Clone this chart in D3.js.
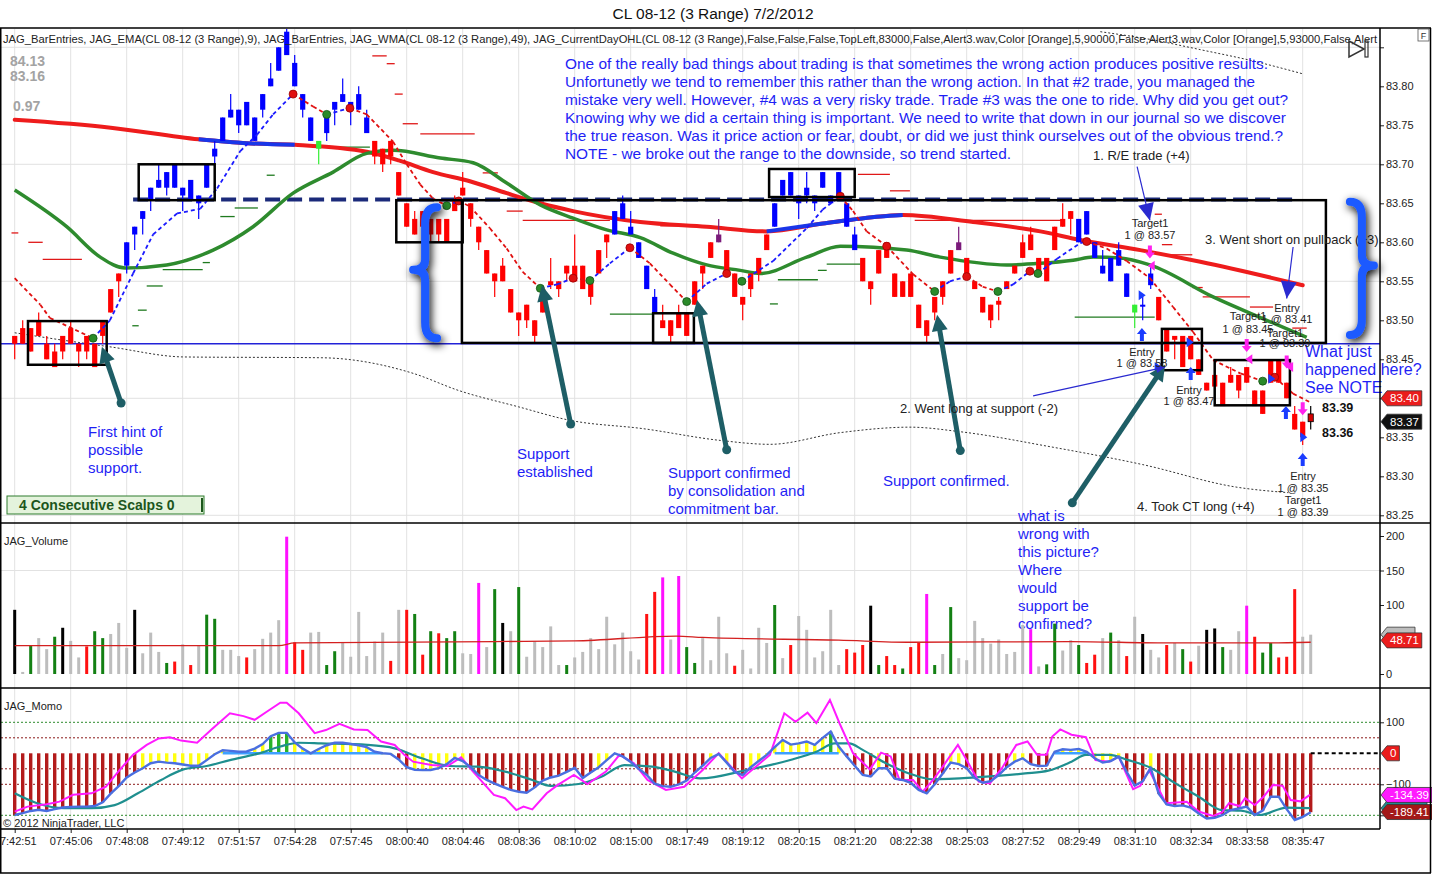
<!DOCTYPE html>
<html>
<head>
<meta charset="utf-8">
<script src="https://cdn.jsdelivr.net/npm/d3@7"></script>
<style>
  body { margin: 0; background: #fff; }
  svg { display: block; font-family: "Liberation Sans", Arial, sans-serif; }
</style>
</head>
<body>
<svg id="chart" width="1432" height="875"></svg>
<script>
// ---------- data ----------
const timeLabels = ["07:42:51","07:45:06","07:48:08","07:49:12","07:51:57","07:54:28","07:57:45","08:00:40",
  "08:04:46","08:08:36","08:10:02","08:15:00","08:17:49","08:19:12","08:20:15","08:21:20","08:22:38",
  "08:25:03","08:27:52","08:29:49","08:31:10","08:32:34","08:33:58","08:35:47"]

const opens = [83.48,83.49,83.49,83.50,83.47,83.46,83.48,83.49,83.47,83.48,
  83.47,83.48,83.51,83.55,83.57,83.61,83.63,83.655,83.67,83.67,
  83.67,83.67,83.655,83.65,83.67,83.71,83.73,83.76,83.75,83.75,
  83.73,83.77,83.80,83.82,83.84,83.83,83.79,83.76,83.73,83.74,
  83.77,83.78,83.78,83.77,83.76,83.73,83.72,83.73,83.69,83.65,
  83.63,83.64,83.63,83.63,83.63,83.64,83.66,83.65,83.62,83.59,
  83.56,83.57,83.54,83.51,83.52,83.50,83.51,83.545,83.55,83.56,
  83.55,83.57,83.55,83.56,83.60,83.61,83.63,83.62,83.60,83.57,
  83.53,83.50,83.50,83.49,83.48,83.52,83.56,83.58,83.60,83.59,
  83.56,83.53,83.54,83.56,83.59,83.62,83.66,83.66,83.66,83.66,
  83.66,83.67,83.66,83.66,83.65,83.61,83.58,83.55,83.56,83.60,
  83.56,83.55,83.56,83.52,83.50,83.51,83.53,83.56,83.59,83.58,
  83.55,83.53,83.52,83.52,83.54,83.56,83.58,83.59,83.58,83.55,
  83.59,83.62,83.64,83.63,83.61,83.60,83.57,83.58,83.57,83.56,
  83.52,83.52,83.56,83.53,83.49,83.48,83.48,83.48,83.45,83.42,
  83.43,83.42,83.43,83.43,83.44,83.41,83.41,83.45,83.45,83.42,
  83.38,83.37,83.38]
const highs = [83.48,83.50,83.49,83.51,83.48,83.47,83.48,83.50,83.47,83.48,
  83.47,83.50,83.54,83.56,83.60,83.62,83.64,83.67,83.70,83.69,
  83.70,83.67,83.68,83.66,83.70,83.73,83.76,83.79,83.77,83.78,
  83.76,83.79,83.83,83.85,83.88,83.84,83.79,83.76,83.73,83.76,
  83.78,83.81,83.78,83.80,83.77,83.73,83.72,83.73,83.69,83.65,
  83.64,83.64,83.63,83.63,83.63,83.66,83.69,83.65,83.62,83.59,
  83.56,83.58,83.54,83.51,83.52,83.50,83.54,83.58,83.55,83.57,
  83.61,83.57,83.55,83.59,83.61,83.64,83.66,83.64,83.60,83.57,
  83.54,83.52,83.50,83.52,83.51,83.55,83.57,83.60,83.63,83.59,
  83.56,83.53,83.56,83.58,83.61,83.65,83.68,83.69,83.66,83.69,
  83.66,83.69,83.66,83.69,83.65,83.62,83.58,83.55,83.59,83.60,
  83.56,83.55,83.56,83.52,83.50,83.53,83.55,83.59,83.62,83.58,
  83.55,83.53,83.52,83.53,83.55,83.57,83.61,83.62,83.58,83.58,
  83.62,83.65,83.64,83.63,83.64,83.60,83.59,83.58,83.60,83.56,
  83.52,83.53,83.57,83.53,83.49,83.48,83.48,83.48,83.45,83.42,
  83.43,83.42,83.44,83.43,83.44,83.41,83.41,83.45,83.45,83.42,
  83.39,83.37,83.39]
const lows = [83.45,83.47,83.46,83.48,83.45,83.44,83.45,83.47,83.44,83.45,
  83.44,83.47,83.51,83.53,83.56,83.59,83.61,83.64,83.67,83.66,
  83.67,83.64,83.655,83.63,83.67,83.70,83.73,83.76,83.74,83.75,
  83.73,83.76,83.80,83.82,83.84,83.80,83.76,83.73,83.70,83.73,
  83.75,83.78,83.75,83.77,83.74,83.70,83.69,83.70,83.66,83.62,
  83.61,83.61,83.60,83.60,83.60,83.64,83.66,83.62,83.59,83.56,
  83.53,83.55,83.51,83.48,83.49,83.47,83.51,83.54,83.53,83.55,
  83.55,83.54,83.52,83.56,83.58,83.61,83.63,83.61,83.58,83.54,
  83.51,83.49,83.47,83.49,83.48,83.52,83.54,83.58,83.60,83.56,
  83.53,83.50,83.53,83.55,83.59,83.62,83.66,83.66,83.63,83.65,
  83.64,83.67,83.65,83.66,83.62,83.59,83.55,83.52,83.56,83.58,
  83.53,83.53,83.53,83.49,83.47,83.50,83.52,83.56,83.59,83.56,
  83.54,83.51,83.49,83.50,83.54,83.56,83.58,83.59,83.56,83.55,
  83.59,83.62,83.61,83.60,83.61,83.58,83.56,83.55,83.57,83.53,
  83.49,83.50,83.54,83.50,83.46,83.45,83.44,83.45,83.43,83.41,
  83.415,83.39,83.42,83.40,83.42,83.39,83.38,83.42,83.42,83.40,
  83.36,83.34,83.36]
const closes = [83.47,83.47,83.46,83.48,83.45,83.44,83.46,83.47,83.46,83.46,
  83.44,83.50,83.54,83.56,83.60,83.62,83.64,83.67,83.68,83.69,
  83.70,83.66,83.68,83.66,83.70,83.72,83.76,83.77,83.77,83.78,
  83.76,83.79,83.81,83.85,83.87,83.80,83.77,83.73,83.72,83.76,
  83.78,83.79,83.77,83.79,83.74,83.71,83.70,83.71,83.66,83.62,
  83.61,83.62,83.61,83.61,83.60,83.655,83.67,83.63,83.60,83.56,
  83.55,83.55,83.51,83.50,83.50,83.48,83.54,83.55,83.54,83.57,
  83.57,83.54,83.53,83.59,83.61,83.64,83.65,83.61,83.58,83.54,
  83.51,83.49,83.48,83.51,83.51,83.55,83.57,83.60,83.61,83.56,
  83.53,83.52,83.56,83.58,83.61,83.65,83.68,83.69,83.65,83.67,
  83.65,83.69,83.65,83.69,83.62,83.59,83.55,83.54,83.59,83.58,
  83.53,83.53,83.53,83.49,83.48,83.53,83.55,83.59,83.60,83.56,
  83.54,83.51,83.50,83.525,83.55,83.57,83.60,83.61,83.56,83.58,
  83.62,83.63,83.63,83.60,83.64,83.58,83.56,83.55,83.59,83.53,
  83.51,83.52,83.545,83.50,83.46,83.475,83.44,83.45,83.43,83.41,
  83.415,83.39,83.42,83.41,83.42,83.39,83.38,83.42,83.42,83.40,
  83.36,83.35,83.37]
// r red, b blue, l lime, p purple, d last bar
const candleColors = "rrrrrrrrrrrrrr" + "bbbbbbbbbbbbbbbbbbbbbbbb" + "l" + "bbbbbb" +
  "rrrrrrrrrrrrrrrrrrrrrrrrrrrrrr" + "bbbbbb" + "rrrrrrr" + "p" + "rrrrrr" + "bbbbbbbbbbb" +
  "rrrrrrrrrrrr" + "p" + "rrrrrrrrrrrrrr" + "bbbbbbb" + "l" + "bb" + "rrrrrrrrrrrrrrrrrrr" + "d"

// indicator lines as [bar, price] points
const wma = [[0,83.757],[12,83.747],[23,83.732],[29,83.727],[35,83.725],[44,83.716],[48,83.705],
  [52.3,83.690],[57,83.678],[61.5,83.663],[65.7,83.650],[69.8,83.640],[78.2,83.626],[86.5,83.620],
  [94,83.614],[101,83.624],[108.2,83.633],[111,83.635],[119.8,83.626],[128.2,83.614],[133.2,83.603],
  [140.7,83.590],[148.2,83.575],[161,83.545]]
const wmaUpRanges = [[23,35],[94,111]]
const ema = [[0,83.667],[6.5,83.62],[10.7,83.581],[13.8,83.567],[19,83.571],[24.8,83.590],[29.8,83.620],
  [34.8,83.663],[39.8,83.690],[44,83.714],[47.3,83.718],[53.2,83.708],[57.3,83.702],[61.5,83.676],
  [65.7,83.648],[69.8,83.631],[74,83.616],[78.2,83.606],[82.3,83.586],[86.5,83.571],[90.7,83.564],
  [93.2,83.560],[99,83.581],[103.2,83.595],[111.5,83.590],[115.7,83.581],[124,83.571],[128.2,83.573],
  [132.3,83.577],[134.8,83.581],[138.2,83.580],[141.9,83.571],[149.8,83.530],[156.5,83.500],[161.5,83.478]]
const ema9 = [[0,83.554],[3.2,83.520],[4.4,83.503],[9.8,83.477],[11.9,83.500],[14.8,83.560],[17.3,83.610],
  [20.3,83.637],[23.2,83.643],[25.3,83.669],[28.2,83.717],[30.3,83.738],[32.3,83.764],[34.8,83.790],
  [37.3,83.774],[39,83.764],[41.9,83.772],[44,83.764],[47.3,83.729],[49,83.700],[50.7,83.674],
  [52.3,83.656],[54,83.647],[55.5,83.653],[56.9,83.646],[59.4,83.618],[61.5,83.592],[63.5,83.562],
  [65.7,83.541],[67.8,83.546],[69.8,83.554],[71.9,83.551],[74.4,83.573],[76.9,83.593],[79.4,83.573],
  [81.9,83.546],[84,83.524],[86.5,83.547],[89,83.560],[90.9,83.550],[94.8,83.576],[99,83.618],
  [101,83.642],[103.2,83.659],[104.8,83.640],[106.5,83.614],[109,83.595],[112.3,83.559],[115,83.537],
  [116.9,83.550],[119,83.556],[121,83.543],[122.9,83.537],[124.8,83.546],[126.9,83.563],[127.9,83.560],
  [130.3,83.579],[133.2,83.599],[134,83.601],[136.5,83.592],[139,83.576],[141.9,83.554],[144.8,83.517],
  [147.3,83.485],[149.8,83.449],[153.2,83.432],[156,83.422],[157.5,83.427],[159.8,83.406],[161.9,83.395]]
const greenTurns = [9.8,39,54,65.7,71.9,84,90.9,115,122.9,127.9,156]
const redTurns = [34.8,41.9,55.5,69.8,76.9,89,103.2,109,119,126.9,134,157.5]
const lowerBand = [[0,83.484],[5.7,83.475],[11.9,83.466],[21.2,83.453],[38.3,83.452],[49.8,83.432],
  [55.5,83.41],[63,83.389],[69.3,83.372],[78.6,83.361],[88.2,83.346],[94.4,83.341],[103.2,83.356],
  [111.9,83.363],[118.3,83.357],[129.4,83.338],[141,83.315],[152.8,83.286],[159.2,83.279]]
const upperBand = [[135.7,83.870],[142,83.860],[148.2,83.847],[155,83.832],[161,83.816]]

// short stop levels [bar from, bar to, price]
const redStops = [[-0.4,0.45,83.612],[1.7,3.5,83.600],[3.5,8.4,83.578],[44.7,46.5,83.839],[46.5,47.5,83.829],
  [47.5,48.5,83.790],[48.5,50.4,83.752],[50.7,57.5,83.739],[58.5,60.4,83.689],[61.5,63.5,83.640],
  [63.5,74.4,83.628],[80.7,85.3,83.621],[105.4,109.4,83.687],[109.4,111.9,83.666],[112.5,131,83.628],
  [142.5,143.4,83.636],[143.4,144.7,83.597],[144.4,147.2,83.584],[147.2,148.5,83.542],[148.5,154.4,83.530],
  [154.4,157.3,83.517],[159.7,161.5,83.490]]
const greenStops = [[14.7,15.5,83.493],[15.4,16.5,83.513],[16.5,18.5,83.544],[18.5,23.5,83.565],
  [23.5,24.4,83.574],[25.7,27.5,83.633],[27.5,30.4,83.644],[31.5,32.5,83.686],[37.9,44.4,83.722],
  [74.4,79.8,83.508],[94.4,95.4,83.521],[95.4,100.4,83.552],[100.4,101.5,83.564],[101.5,105.7,83.572],
  [132.5,142.5,83.504]]

// drawn objects: boxes [bar0, bar1, top price, bottom price], levels
const boxes = [[1.66,11.5,83.499,83.443],[15.5,25,83.70,83.654],[47.7,56,83.654,83.60],[55.9,163.9,83.654,83.471],
  [79.8,84.9,83.509,83.471],[94.3,105,83.694,83.658],[143.4,148.4,83.489,83.436],[150,159.4,83.449,83.391]]
const rangeTop = {from: 14.8, to: 160.3, price: 83.655}
const supportLevel = 83.47
const braces = [{bar: 51.3, top: 83.645, bottom: 83.477, dir: -1}, {bar: 168.4, top: 83.652, bottom: 83.481, dir: 1}]
const tealArrows = [[[13.3,83.394],[10.9,83.466]],[[69.5,83.367],[65.9,83.545]],[[89,83.334],[85.3,83.526]],
  [[118.2,83.333],[115.3,83.507]],[[132.2,83.266],[143.8,83.443]]]
const blueArrows = [[[140.3,83.697],[141.9,83.628]],[[127.3,83.403],[143.8,83.44]],[[159.8,83.594],[159.0,83.528]]]
const entryUp = [[140.9,83.49],[147,83.44],[161,83.33],[158.9,83.39]]
const targetDown = [[141.9,83.596],[154,83.476],[159,83.455],[161,83.395]]
const targetLeft = [[142,83.57],[154.2,83.45],[159.3,83.44]]
const entryFlags = [[140.5,83.532],[142.5,83.44],[146.5,83.472],[156.7,83.425],[160.7,83.35]]

// volume
const volume = [93,3,42,52,36,54,67,48,24,40,62,52,58,74,38,93,30,60,32,16,18,43,13,41,86,80,35,35,26,24,
  36,51,60,78,199,46,35,60,61,13,33,46,25,90,26,47,60,19,93,93,87,28,62,59,52,62,30,29,132,39,
  123,74,62,126,25,47,39,69,13,13,24,32,52,36,83,43,60,33,21,87,119,140,50,142,39,16,52,20,
  83,30,12,35,8,67,45,100,23,42,84,64,24,33,93,13,36,31,42,99,13,26,13,8,39,45,116,13,29,97,
  23,20,77,52,44,50,29,32,71,65,11,14,73,34,49,42,16,28,52,60,49,26,83,58,35,24,42,45,36,18,
  41,64,66,39,35,62,99,54,31,45,24,25,123,54,57]
// k black, a gray, g green, r red, m magenta
const volumeColors = "kagaagkaar" + "ggaaakaaag" + "raraggaaar" + "aaaamrraag" + "gaaaaaarar" +
  "grgrggaama" + "gkagaaaaag" + "aaaaaaaaar" + "rmamggaaaa" + "raaaagaraa" + "aaaarrrkgr" +
  "rgrrmgagaa" + "aaaaaaamag" + "gaagrragar" + "akaaragrak" + "kgaamrggrr" + "raa"
const volumeAvg = [[0,41],[33,41],[35,45],[60,47],[70,48],[82.7,55],[86,53],[103,49],[112,46],[132,47],[144,45],[157,45],[162,46]]

// momentum
const momo = [-199,-193,-186,-182,-186,-180,-175,-173,-172,-172,-170,-158,-130,-106,-78,-62,-48,-32,-27,-30,
  -32,-36,-40,-40,-22,-3,10,8,5,6,15,30,55,66,66,35,15,0,14,26,
  34,34,30,26,20,5,0,-2,-20,-45,-53,-54,-54,-48,-35,-15,-25,-45,-70,-86,
  -98,-108,-118,-124,-127,-110,-88,-78,-72,-60,-47,-80,-62,-45,-22,0,-10,-28,-50,-70,
  -98,-106,-108,-100,-88,-62,-40,-15,-2,-30,-60,-70,-45,-25,-5,20,43,28,32,38,
  27,50,70,22,-10,-40,-70,-75,-48,-48,-82,-86,-95,-118,-129,-100,-65,-30,-35,-48,
  -80,-95,-90,-70,-45,-27,-16,-35,-41,-40,5,13,11,14,5,-16,-30,-25,-11,-60,
  -104,-90,-48,-130,-165,-170,-168,-175,-194,-210,-208,-199,-183,-178,-172,-199,-185,-140,-140,-180,
  -215,-205,-190]
const momoColors = "rrrrrrrrrr" + "rrrrrryyyy" + "yyyyyyyyyy" + "yygggyyyyy" + "yyyyyyyyrr" +
  "yyyyyyyrrr" + "rrrrrrrrrr" + "rrryyyrrrr" + "rrrrrrryyy" + "rryyyyyyyy" + "yygyrrrryr" +
  "rrrrrrryyr" + "rrrrryyrrr" + "yyyyyyyyyr" + "rryrrrrrrr" + "rrrrrrrrrr" + "rrr"
const momoFast = [[0,-188],[1.6,-172],[4,-164],[5.6,-156],[7.3,-134],[9.6,-129],[11.4,-108],[13.1,-54],[14.8,-5],
  [16.5,27],[18,48],[19.4,52],[20.8,41],[22.8,34],[24.6,77],[26.9,129],[28.6,120],[30,108],[31.5,134],
  [33.2,163],[34,163],[35.5,129],[37.5,65],[38.9,75],[40.6,95],[42.4,77],[44.1,75],[45.8,38],[47.5,27],
  [48.7,-5],[49.8,-27],[52.1,-38],[54.1,-41],[55.8,-13],[57.3,-59],[59.9,-134],[61.3,-145],[62.7,-183],
  [63.6,-172],[64.7,-181],[66.5,-129],[67.9,-102],[69.9,-70],[71.6,-99],[73.9,-59],[75.6,-5],[77.4,-32],
  [79.1,-86],[81.4,-118],[83.7,-108],[86,-54],[88,0],[90.9,-81],[94.4,-5],[96.2,129],[97.6,102],[99.1,131],
  [100.2,98],[101.9,172],[103.1,97],[104.8,0],[106.9,-52],[108.3,2],[109.5,-10],[110.6,-86],[112.3,-86],
  [113.5,-124],[114.8,-86],[116,-43],[117.9,27],[119,-22],[120.5,-91],[121.9,-97],[123.4,-48],[125.2,27],
  [126.6,38],[127.8,-5],[129,-5],[129.7,54],[130.7,77],[132.1,60],[133.9,52],[135.1,-22],[136.8,-27],
  [138,-11],[139.8,-116],[140.7,-105],[141.8,-54],[143.9,-161],[146.5,-156],[148,-188],[149.8,-202],
  [150.9,-191],[151.8,-161],[153.1,-170],[153.8,-145],[155,-167],[156.1,-140],[157.3,-102],[158.5,-105],
  [159.5,-151],[160.7,-155],[161.9,-134]]
const momoSlow = [[0,-129],[2.8,-161],[6.2,-177],[9.6,-177],[12.5,-167],[15.4,-129],[18.3,-86],[21.1,-52],
  [24,-41],[26.9,-22],[30.3,-2],[33.2,22],[35.5,34],[38.3,32],[44.1,27],[47.5,16],[50.9,-16],[54.4,-41],
  [57.9,-43],[61.3,-59],[64.7,-86],[67,-105],[70.5,-99],[73.4,-75],[76.2,-38],[79.7,-43],[82.5,-59],
  [85.7,-81],[91.5,-54],[94.4,-38],[97.3,-19],[100.2,5],[102.5,32],[104.3,32],[106,11],[108.9,-32],
  [111.8,-65],[114.7,-84],[120.5,-77],[126.3,-65],[129.2,-56],[132.1,-27],[133.9,-5],[136.8,-5],
  [139.2,-22],[142.1,-48],[145.1,-97],[148,-140],[150.9,-183],[153.3,-185],[155.6,-199],[159,-175],[161.9,-177]]
const momoLevels = [[100,"#2e8b2e"],[50,"#8b1a1a"],[-50,"#8b1a1a"],[-100,"#8b1a1a"],[-200,"#2e8b2e"]]

// tick values; 83.40 sits under the price tag, so it only gets a tick mark
const priceTicks = [83.25,83.30,83.35,83.45,83.50,83.55,83.60,83.65,83.70,83.75,83.80]
const priceMarksOnly = [83.40,83.85]
const priceGrid = [83.85,83.70,83.55,83.40,83.25]
const volumeTicks = [0,100,150,200]
const momoTicks = [-200,-100,100]

// ---------- layout ----------
const W = 1432, H = 875
const plotRight = 1380
const font = "Liberation Sans, Arial, sans-serif"

const x = d3.scaleLinear().domain([0, 162]).range([14.7, 1310.7])
const yP = d3.scaleLinear().domain([83.25, 83.80]).range([515.3, 86.3])
const yV = d3.scaleLinear().domain([0, 200]).range([674, 536])
const yM = d3.scaleLinear().domain([-200, 100]).range([815.3, 722.3])

const svg = d3.select("#chart")
svg.append("rect").attr("width", W).attr("height", H).attr("fill", "#fff")

const defs = svg.append("defs")
function clip(id, y0, y1) {
  defs.append("clipPath").attr("id", id).append("rect")
    .attr("x", 1).attr("y", y0).attr("width", plotRight - 1).attr("height", y1 - y0)
}
clip("cp", 29, 523)
clip("cv", 524, 688)
clip("cm", 689, 829)

const shadow = defs.append("filter").attr("id", "shadow")
  .attr("x", "-60%").attr("y", "-20%").attr("width", "220%").attr("height", "140%")
shadow.append("feGaussianBlur").attr("in", "SourceAlpha").attr("stdDeviation", 4)
shadow.append("feOffset").attr("dx", 2).attr("dy", 3).attr("result", "blur")
const merge = shadow.append("feMerge")
merge.append("feMergeNode").attr("in", "blur")
merge.append("feMergeNode").attr("in", "SourceGraphic")
defs.append("filter").attr("id", "soft").append("feGaussianBlur").attr("stdDeviation", 2.5)

// title
svg.append("text").attr("x", 713).attr("y", 19).attr("text-anchor", "middle")
  .attr("font-size", 15.5).attr("fill", "#111").attr("font-family", font)
  .text("CL 08-12 (3 Range)  7/2/2012")

// grid
const tickBars = d3.range(0, 162, 7)
svg.append("g").selectAll("line").data(tickBars).join("line")
  .attr("x1", d => x(d)).attr("x2", d => x(d)).attr("y1", 29).attr("y2", 829)
  .attr("stroke", "#e2e2e2")
svg.append("g").selectAll("line").data(priceGrid).join("line")
  .attr("x1", 1).attr("x2", plotRight).attr("y1", d => yP(d)).attr("y2", d => yP(d))
  .attr("stroke", "#e2e2e2")
svg.append("line").attr("x1", 1).attr("x2", plotRight).attr("y1", yV(150)).attr("y2", yV(150)).attr("stroke", "#e2e2e2")

// ---------- price panel ----------
const P = svg.append("g").attr("clip-path", "url(#cp)")

const bandLine = d3.line().x(d => x(d[0])).y(d => yP(d[1])).curve(d3.curveMonotoneX)
;[lowerBand, upperBand].forEach(band => {
  P.append("path").datum(band).attr("d", bandLine)
    .attr("fill", "none").attr("stroke", "#333").attr("stroke-width", 1).attr("stroke-dasharray", "2,2")
})

// range top dashed line with shadow
P.append("line").attr("x1", x(rangeTop.from)).attr("x2", x(rangeTop.to))
  .attr("y1", yP(rangeTop.price) + 4).attr("y2", yP(rangeTop.price) + 4)
  .attr("stroke", "#888").attr("stroke-width", 5).attr("stroke-dasharray", "15,7").attr("filter", "url(#soft)")
P.append("line").attr("x1", x(rangeTop.from)).attr("x2", x(rangeTop.to))
  .attr("y1", yP(rangeTop.price)).attr("y2", yP(rangeTop.price))
  .attr("stroke", "#1b2a7a").attr("stroke-width", 4).attr("stroke-dasharray", "15,7")

P.append("line").attr("x1", 1).attr("x2", plotRight).attr("y1", yP(supportLevel)).attr("y2", yP(supportLevel))
  .attr("stroke", "#2222d8").attr("stroke-width", 1.6)

P.append("g").selectAll("line").data(redStops).join("line")
  .attr("x1", d => x(d[0])).attr("x2", d => x(d[1])).attr("y1", d => yP(d[2])).attr("y2", d => yP(d[2]))
  .attr("stroke", "#e01818").attr("stroke-width", 1.3)
P.append("g").selectAll("line").data(greenStops).join("line")
  .attr("x1", d => x(d[0])).attr("x2", d => x(d[1])).attr("y1", d => yP(d[2])).attr("y2", d => yP(d[2]))
  .attr("stroke", "#1f7a1f").attr("stroke-width", 1.3)

const smooth = d3.line().x(d => x(d[0])).y(d => yP(d[1])).curve(d3.curveMonotoneX)
P.append("path").datum(wma).attr("d", smooth).attr("fill", "none")
  .attr("stroke", "#ee1c1c").attr("stroke-width", 4).attr("stroke-linecap", "round")
wmaUpRanges.forEach(r => {
  P.append("path").datum(wma.filter(p => p[0] >= r[0] && p[0] <= r[1])).attr("d", smooth)
    .attr("fill", "none").attr("stroke", "#1a36e8").attr("stroke-width", 4)
})
P.append("path").datum(ema).attr("d", smooth).attr("fill", "none")
  .attr("stroke", "#2e8b2e").attr("stroke-width", 3.5)

// candles
const bars = opens.map((o, i) => ({i, o, h: highs[i], l: lows[i], c: closes[i], col: candleColors[i]}))
const candleFill = {r: "#ff0000", b: "#0000ff", l: "#33ee33", p: "#7a1a7a", d: "#d40000"}
const cg = P.append("g")
cg.selectAll("line").data(bars).join("line")
  .attr("x1", d => x(d.i)).attr("x2", d => x(d.i)).attr("y1", d => yP(d.h)).attr("y2", d => yP(d.l))
  .attr("stroke", d => d.col === "d" ? "#000" : candleFill[d.col]).attr("stroke-width", 1.2)
cg.selectAll("rect").data(bars).join("rect")
  .attr("x", d => x(d.i) - 2.6).attr("width", 5.2)
  .attr("y", d => yP(Math.max(d.o, d.c)))
  .attr("height", d => Math.max(2, Math.abs(yP(d.o) - yP(d.c))))
  .attr("fill", d => candleFill[d.col])
  .attr("stroke", d => d.col === "d" ? "#000" : "none").attr("stroke-width", 0.8)

// fast EMA, dashed, coloured by last turn
function stateAt(b) {
  const g = d3.max(greenTurns.filter(t => t <= b)) ?? -1
  const r = d3.max(redTurns.filter(t => t <= b)) ?? -1
  return g > r ? "#1a1aff" : "#e01010"
}
const eg = P.append("g")
for (let k = 0; k < ema9.length - 1; k++) {
  const a = ema9[k], b = ema9[k + 1]
  eg.append("line").attr("x1", x(a[0])).attr("y1", yP(a[1])).attr("x2", x(b[0])).attr("y2", yP(b[1]))
    .attr("stroke", stateAt(a[0])).attr("stroke-width", 1.8).attr("stroke-dasharray", "4,3")
}
const turnDots = greenTurns.map(b => ({b, c: "#2a8a2a"})).concat(redTurns.map(b => ({b, c: "#e01010"})))
eg.selectAll("circle").data(turnDots).join("circle")
  .attr("cx", d => x(d.b)).attr("cy", d => yP(ema9.find(p => p[0] === d.b)[1]))
  .attr("r", 4).attr("fill", d => d.c).attr("stroke", d => d.c === "#2a8a2a" ? "#145214" : "#9a0000").attr("stroke-width", 0.8)

// boxes
P.append("g").selectAll("rect").data(boxes).join("rect")
  .attr("x", d => x(d[0])).attr("y", d => yP(d[2]))
  .attr("width", d => x(d[1]) - x(d[0])).attr("height", d => yP(d[3]) - yP(d[2]))
  .attr("fill", "none").attr("stroke", "#000").attr("stroke-width", 2.5)

// trade markers
const mk = P.append("g")
mk.selectAll(".up").data(entryUp).join("path").attr("class", "up")
  .attr("d", d => { const cx = x(d[0]), cy = yP(d[1]); return `M${cx},${cy} l5,6 h-3 v7 h-4 v-7 h-3 z` })
  .attr("fill", "#1a3cff")
mk.selectAll(".dn").data(targetDown).join("path").attr("class", "dn")
  .attr("d", d => { const cx = x(d[0]), cy = yP(d[1]); return `M${cx - 2},${cy} h4 v7 h3 l-5,6 l-5,-6 h3 z` })
  .attr("fill", "#ff22ee")
mk.selectAll(".lf").data(targetLeft).join("path").attr("class", "lf")
  .attr("d", d => { const cx = x(d[0]), cy = yP(d[1]); return `M${cx - 3},${cy} l7,-5 v10 z` })
  .attr("fill", "#ff22ee")
mk.selectAll(".fl").data(entryFlags).join("path").attr("class", "fl")
  .attr("d", d => { const cx = x(d[0]), cy = yP(d[1]); return `M${cx},${cy - 5} l7,5 l-7,5 z` })
  .attr("fill", "#1a3cff")

// arrows
function arrowHead(x1, y1, x2, y2, len, half) {
  const a = Math.atan2(y2 - y1, x2 - x1)
  const bx = x2 - len * Math.cos(a), by = y2 - len * Math.sin(a)
  const nx = -Math.sin(a) * half, ny = Math.cos(a) * half
  return `M${x2},${y2} L${bx + nx},${by + ny} L${bx - nx},${by - ny} Z`
}
const ag = svg.append("g")
tealArrows.forEach(([s, e]) => {
  const x1 = x(s[0]), y1 = yP(s[1]), x2 = x(e[0]), y2 = yP(e[1])
  const a = Math.atan2(y2 - y1, x2 - x1)
  ag.append("line").attr("x1", x1).attr("y1", y1).attr("x2", x2 - 12 * Math.cos(a)).attr("y2", y2 - 12 * Math.sin(a))
    .attr("stroke", "#1e5e66").attr("stroke-width", 5)
  ag.append("path").attr("d", arrowHead(x1, y1, x2, y2, 16, 8)).attr("fill", "#1e5e66")
  ag.append("circle").attr("cx", x1).attr("cy", y1).attr("r", 4.5).attr("fill", "#1e5e66")
})
blueArrows.forEach(([s, e], k) => {
  const x1 = x(s[0]), y1 = yP(s[1]), x2 = x(e[0]), y2 = yP(e[1])
  ag.append("line").attr("x1", x1).attr("y1", y1).attr("x2", x2).attr("y2", y2)
    .attr("stroke", "#2a2ad0").attr("stroke-width", 1.2)
  const big = k !== 1
  ag.append("path").attr("d", arrowHead(x1, y1, x2, y2, big ? 17 : 9, big ? 8 : 4)).attr("fill", "#2a2ad0")
})

// braces
function bracePath(b) {
  const cx = x(b.bar), y0 = yP(b.top), y1 = yP(b.bottom), ym = (y0 + y1) / 2 - 3, w = 12 * b.dir
  return `M${cx - w},${y0} Q${cx},${y0} ${cx},${y0 + 16} L${cx},${ym - 10} Q${cx},${ym} ${cx + w},${ym} ` +
    `Q${cx},${ym} ${cx},${ym + 10} L${cx},${y1 - 16} Q${cx},${y1} ${cx - w},${y1}`
}

// ---------- text in price panel ----------
function txt(g, xx, yy, s, size, fill, anchor, weight) {
  return g.append("text").attr("x", xx).attr("y", yy).attr("font-size", size).attr("fill", fill)
    .attr("text-anchor", anchor || "start").attr("font-weight", weight || "normal")
    .attr("font-family", font).text(s)
}
const T = svg.append("g")
svg.append("clipPath").attr("id", "hdr").append("rect").attr("x", 0).attr("y", 28).attr("width", 1378).attr("height", 20)
T.append("text").attr("clip-path", "url(#hdr)").attr("x", 3).attr("y", 43).attr("font-size", 11).attr("fill", "#222")
  .attr("font-family", font).attr("textLength", 1374).attr("lengthAdjust", "spacingAndGlyphs")
  .text("JAG_BarEntries, JAG_EMA(CL 08-12 (3 Range),9), JAG_BarEntries, JAG_WMA(CL 08-12 (3 Range),49), JAG_CurrentDayOHL(CL 08-12 (3 Range),False,False,False,TopLeft,83000,False,Alert3.wav,Color [Orange],5,90000,False,Alert3.wav,Color [Orange],5,93000,False,Alert")
txt(T, 10, 66, "84.13", 14, "#a3a3a3", "start", "bold")
txt(T, 10, 81, "83.16", 14, "#a3a3a3", "start", "bold")
txt(T, 13, 111, "0.97", 14, "#a3a3a3", "start", "bold")

const para = [
  ["One of the really bad things about trading is that sometimes the wrong action produces positive results.", 703],
  ["Unfortunetly we tend to remember this rather than the wrong action. In that #2 trade, you managed the", 690],
  ["mistake very well. However, #4 was a very risky trade. Trade #3 was the one to ride. Why did you get out?", 723],
  ["Knowing why we did a certain thing is important. We need to write that down in our journal so we discover", 721],
  ["the true reason. Was it price action or fear, doubt, or did we just think ourselves out of the obvious trend.?", 718],
  ["NOTE - we broke out the range to the downside, so trend started.", 446]]
para.forEach((p, k) => {
  txt(T, 565, 69 + 18 * k, p[0], 15, "#1f1ff5").attr("textLength", p[1]).attr("lengthAdjust", "spacingAndGlyphs")
})
const blueNotes = [[88, 437, ["First hint of", "possible", "support."]], [517, 459, ["Support", "established"]],
  [668, 478, ["Support confirmed", "by consolidation and", "commitment bar."]], [883, 486, ["Support confirmed."]],
  [1018, 521, ["what is", "wrong with", "this picture?", "Where", "would", "support be", "confirmed?"]]]
blueNotes.forEach(n => n[2].forEach((s, k) => txt(T, n[0], n[1] + 18 * k, s, 15, "#1f1ff5")))
;["What just", "happened here?", "See NOTE"].forEach((s, k) => txt(T, 1305, 357 + 18 * k, s, 16, "#1f1ff5"))

txt(T, 1093, 160, "1. R/E trade (+4)", 13, "#222")
txt(T, 1205, 244, "3. Went short on pullback (+3)", 13, "#222")
txt(T, 900, 413, "2. Went long at support (-2)", 13, "#222")
txt(T, 1137, 511, "4. Took CT long (+4)", 13, "#222")
const tradeLabels = [[1150,227,"Target1"],[1150,239,"1 @ 83.57"],[1142,356,"Entry"],[1142,367,"1 @ 83.58"],
  [1189,394,"Entry"],[1189,405,"1 @ 83.47"],[1248,320,"Target1"],[1248,333,"1 @ 83.45"],[1287,312,"Entry"],
  [1287,323,"1 @ 83.41"],[1285,337,"Target1"],[1285,347,"1 @ 83.39"],[1303,480,"Entry"],[1303,492,"1 @ 83.35"],
  [1303,504,"Target1"],[1303,516,"1 @ 83.39"]]
tradeLabels.forEach(t => txt(T, t[0], t[1], t[2], 11, "#222", "middle"))
txt(T, 1322, 412, "83.39", 12.5, "#111", "start", "bold")
txt(T, 1322, 437, "83.36", 12.5, "#111", "start", "bold")

svg.append("g").selectAll("path").data(braces).join("path").attr("d", bracePath)
  .attr("fill", "none").attr("stroke", "#1e5aff").attr("stroke-width", 8)
  .attr("stroke-linecap", "round").attr("stroke-linejoin", "round").attr("filter", "url(#shadow)")

// scalps box
svg.append("rect").attr("x", 7).attr("y", 496).attr("width", 197).attr("height", 18)
  .attr("fill", "#e4f3dc").attr("stroke", "#2e7d2e").attr("stroke-width", 1)
txt(svg, 19, 510, "4  Consecutive Scalps 0", 14, "#1c561c", "start", "bold")
svg.append("line").attr("x1", 202).attr("x2", 202).attr("y1", 498).attr("y2", 512).attr("stroke", "#1c561c").attr("stroke-width", 2)

// ---------- volume panel ----------
const V = svg.append("g").attr("clip-path", "url(#cv)")
const volFill = {k: "#000", a: "#bdbdbd", g: "#138013", r: "#ff1010", m: "#ff10ff"}
V.selectAll("rect").data(volume).join("rect")
  .attr("x", (d, i) => x(i) - 1.5).attr("width", 3)
  .attr("y", d => yV(d)).attr("height", d => yV(0) - yV(d))
  .attr("fill", (d, i) => volFill[volumeColors[i]])
V.append("path").datum(volumeAvg)
  .attr("d", d3.line().x(d => x(d[0])).y(d => yV(d[1])).curve(d3.curveMonotoneX))
  .attr("fill", "none").attr("stroke", "#d42020").attr("stroke-width", 1.3)
txt(svg, 4, 545, "JAG_Volume", 11, "#222")

// ---------- momentum panel ----------
const M = svg.append("g").attr("clip-path", "url(#cm)")
momoLevels.forEach(l => {
  M.append("line").attr("x1", 1).attr("x2", plotRight).attr("y1", yM(l[0])).attr("y2", yM(l[0]))
    .attr("stroke", l[1]).attr("stroke-width", 1).attr("stroke-dasharray", "2,2")
})
const momoFill = {r: "#b31b1b", y: "#ffff10", g: "#29b329"}
M.selectAll("rect").data(momo).join("rect")
  .attr("x", (d, i) => x(i) - 1.7).attr("width", 3.4)
  .attr("y", d => Math.min(yM(0), yM(d))).attr("height", d => Math.max(1, Math.abs(yM(d) - yM(0))))
  .attr("fill", (d, i) => momoFill[momoColors[i]])
M.append("path").datum(momo)
  .attr("d", d3.line().defined(d => d >= 0).x((d, i) => x(i)).y(() => yM(0)))
  .attr("fill", "none").attr("stroke", "#3ea0ff").attr("stroke-width", 2.5)
M.append("path").datum(momoSlow)
  .attr("d", d3.line().x(d => x(d[0])).y(d => yM(d[1])).curve(d3.curveMonotoneX))
  .attr("fill", "none").attr("stroke", "#1f8f8f").attr("stroke-width", 2.2)
M.append("path").datum(momoFast)
  .attr("d", d3.line().x(d => x(d[0])).y(d => yM(d[1])))
  .attr("fill", "none").attr("stroke", "#ff1aff").attr("stroke-width", 2)
M.append("path").datum(momo)
  .attr("d", d3.line().x((d, i) => x(i)).y(d => yM(d)))
  .attr("fill", "none").attr("stroke", "#4a6fe0").attr("stroke-width", 2.4)
svg.append("line").attr("x1", x(162)).attr("x2", plotRight).attr("y1", yM(0)).attr("y2", yM(0))
  .attr("stroke", "#000").attr("stroke-width", 2).attr("stroke-dasharray", "4,3")
txt(svg, 4, 710, "JAG_Momo", 11, "#222")
txt(svg, 3, 827, "\u00a9 2012 NinjaTrader, LLC", 11, "#222")

// ---------- axes ----------
function styleAxis(g) {
  g.select(".domain").remove()
  g.attr("font-family", font).attr("font-size", 11)
  g.selectAll("text").attr("fill", "#222")
  g.selectAll("line").attr("stroke", "#222")
}
svg.append("g").attr("transform", `translate(${plotRight},0)`)
  .call(d3.axisRight(yP).tickValues(priceTicks).tickFormat(d3.format(".2f")).tickSize(4).tickPadding(2)).call(styleAxis)
svg.append("g").attr("transform", `translate(${plotRight},0)`)
  .call(d3.axisRight(yP).tickValues(priceMarksOnly).tickFormat("").tickSize(4)).call(styleAxis)
svg.append("g").attr("transform", `translate(${plotRight},0)`)
  .call(d3.axisRight(yV).tickValues(volumeTicks).tickSize(4).tickPadding(2)).call(styleAxis)
svg.append("g").attr("transform", `translate(${plotRight},0)`)
  .call(d3.axisRight(yM).tickValues(momoTicks).tickSize(4).tickPadding(2)).call(styleAxis)
svg.append("g").attr("transform", "translate(0,829)")
  .call(d3.axisBottom(x).tickValues(tickBars).tickFormat((d, i) => timeLabels[i]).tickSize(4).tickPadding(4)).call(styleAxis)

// value tags on the right axis, sized to their text
function tag(yy, label, fill, color, minW) {
  const g = svg.append("g")
  const t = g.append("text").attr("y", yy + 4).attr("text-anchor", "middle")
    .attr("font-size", 11.5).attr("fill", color || "#fff").attr("font-family", font).text(label)
  const w = Math.max(minW || 10, (label ? t.node().getComputedTextLength() : 0) + 6)
  g.insert("path", "text").attr("d", `M${plotRight + 1},${yy} l6,-7.5 h${w} v15 h-${w} z`)
    .attr("fill", fill).attr("stroke", "#333").attr("stroke-width", 0.8)
  t.attr("x", plotRight + 7 + w / 2)
}
tag(yP(83.40), "83.40", "#ea1c1c")
tag(yP(closes[162]), "83.37", "#111")
tag(yV(volume[162]), "", "#bdbdbd", "#333", 28)
tag(yV(48.71), "48.71", "#ea1c1c")
tag(yM(0), "0", "#ea1c1c")
tag(yM(-177), "", "#1f8f8f", "#fff", 40)
tag(yM(-134.39), "-134.39", "#ff1aff")
tag(yM(-189.41), "-189.41", "#a31818")

// ---------- frame ----------
const F = svg.append("g").attr("stroke", "#000").attr("stroke-width", 1.5)
;[[0, 28, 1431, 28], [0, 523, 1431, 523], [0, 688, 1431, 688], [0, 829, plotRight, 829], [0, 873, 1431, 873],
  [0.75, 28, 0.75, 873], [1430.5, 28, 1430.5, 873], [plotRight, 28, plotRight, 829]]
  .forEach(l => F.append("line").attr("x1", l[0]).attr("y1", l[1]).attr("x2", l[2]).attr("y2", l[3]))
svg.append("rect").attr("x", 1418).attr("y", 29).attr("width", 11).attr("height", 12)
  .attr("fill", "#fff").attr("stroke", "#555").attr("stroke-width", 0.8)
txt(svg, 1423.5, 38.5, "F", 9, "#333", "middle")
svg.append("path").attr("d", "M1349,41 L1364,49 L1349,57 Z")
  .attr("fill", "none").attr("stroke", "#333").attr("stroke-width", 1.5)
svg.append("rect").attr("x", 1365).attr("y", 41).attr("width", 3).attr("height", 16)
  .attr("fill", "none").attr("stroke", "#333").attr("stroke-width", 1.2)
</script>
</body>
</html>
